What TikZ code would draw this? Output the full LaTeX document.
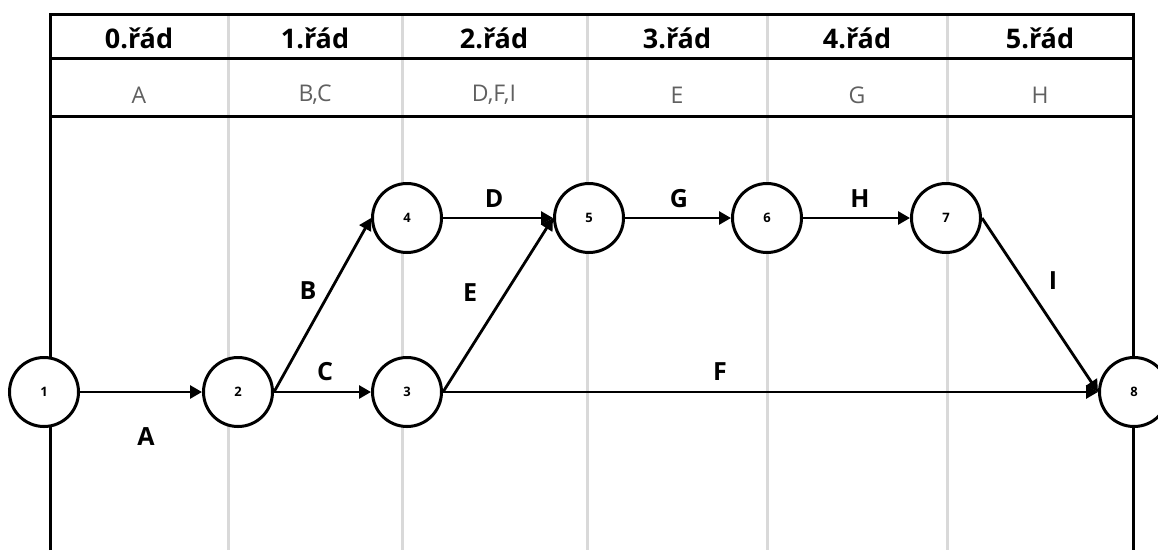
\documentclass[tikz,border=0pt]{standalone}
\usepackage{fontspec}
\setmainfont{Open Sans}
\usetikzlibrary{arrows.meta}
\definecolor{mrizka}{HTML}{D9D9D9}
\definecolor{cinnost}{HTML}{606060}
\tikzset{
  ramec/.style={line width=3pt},
  sloupec/.style={line width=3pt, mrizka},
  uzel/.style={circle, draw, line width=3pt, fill=white, minimum size=69pt, inner sep=0pt,
    font=\fontsize{13}{13}\selectfont\bfseries},
  hrana/.style={line width=2.8pt, -{Triangle[length=12pt,width=13pt]}},
  popis/.style={font=\fontsize{25}{25}\selectfont\bfseries},
  rad/.style={font=\fontsize{27}{27}\selectfont\bfseries},
  akt/.style={font=\fontsize{23}{23}\selectfont, text=cinnost},
}
\begin{document}
\begin{tikzpicture}[x=1pt, y=-1pt]
\useasboundingbox (0,0) rectangle (1158,550);
% svisle cary mezi rady
\foreach \xs in {228,402,587,767,947}
  \draw[sloupec] (\xs,14) -- (\xs,550);
% ramec tabulky
\draw[ramec] (50,550) -- (50,14) -- (1133,14) -- (1133,550);
\draw[ramec] (50,58) -- (1133,58);
\draw[ramec] (50,116) -- (1133,116);
% hlavicka
\foreach \i/\xs/\akce in {0/139/A, 1/315/{B,C}, 2/494/{D,F,I}, 3/677/E, 4/857/G, 5/1040/H} {
  \node[rad] (r\i) at (\xs,38) {\i.řád};
  \node[akt] (a\i) at (\xs,95) {\akce};
}
% uzly site
\node[uzel] (n1) at (44,392) {1};
\node[uzel] (n2) at (238,392) {2};
\node[uzel] (n3) at (407,392) {3};
\node[uzel] (n4) at (407,218) {4};
\node[uzel] (n5) at (589,218) {5};
\node[uzel] (n6) at (767,218) {6};
\node[uzel] (n7) at (946,218) {7};
\node[uzel] (n8) at (1134,392) {8};
% cinnosti
\draw[hrana] (n1.east) -- (n2.west);
\draw[hrana] (n2.east) -- (n4.west);
\draw[hrana] (n2.east) -- (n3.west);
\draw[hrana] (n4.east) -- (n5.west);
\draw[hrana] (n3.east) -- (n5.west);
\draw[hrana] (n3.east) -- (n8.west);
\draw[hrana] (n5.east) -- (n6.west);
\draw[hrana] (n6.east) -- (n7.west);
\draw[hrana] (n7.east) -- (n8.west);
\node[popis] (pA) at (146,437) {A};
\node[popis] (pB) at (308,291) {B};
\node[popis] (pC) at (325,372) {C};
\node[popis] (pD) at (494,199) {D};
\node[popis] (pE) at (470,293) {E};
\node[popis] (pF) at (720,372) {F};
\node[popis] (pG) at (679,199) {G};
\node[popis] (pH) at (860,199) {H};
\node[popis] (pI) at (1053,281) {I};
\end{tikzpicture}
\end{document}
